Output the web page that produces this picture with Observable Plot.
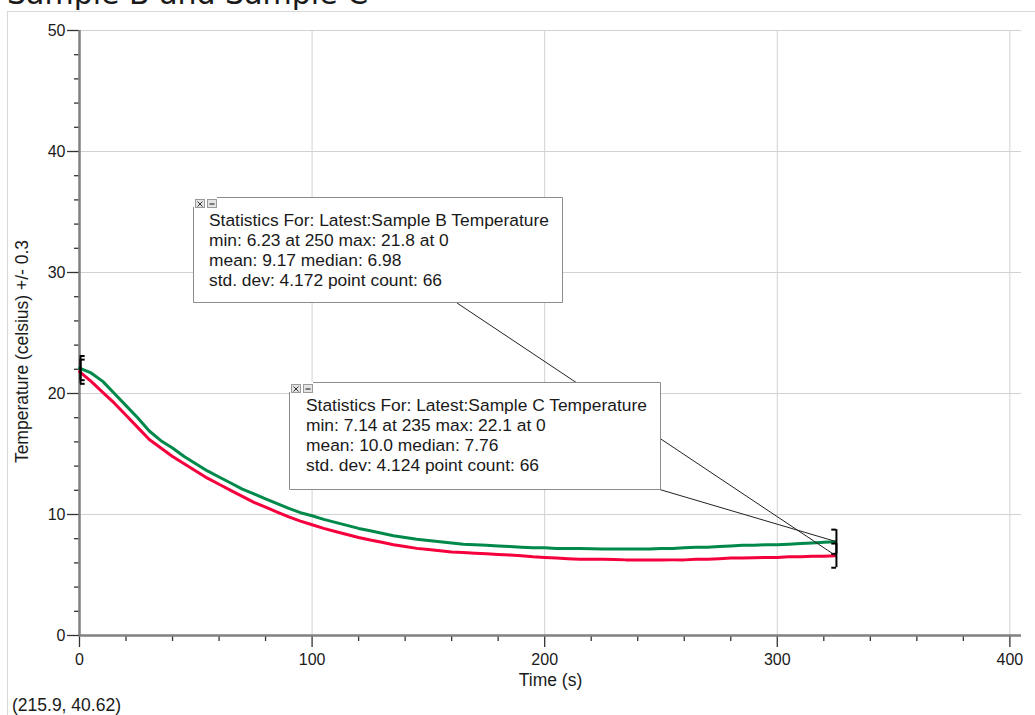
<!DOCTYPE html>
<html><head><meta charset="utf-8">
<script src="https://cdn.jsdelivr.net/npm/d3@7"></script>
<script src="https://cdn.jsdelivr.net/npm/@observablehq/plot@0.6"></script>
<style>
body{margin:0;background:#fff;width:1035px;height:715px;overflow:hidden;position:relative;font-family:"Liberation Sans",Arial,sans-serif;color:#1a1a1a}
#title{position:absolute;left:0;top:0;width:1035px;height:11px;overflow:hidden}
#title span{position:absolute;left:7px;top:-21px;font-family:"DejaVu Sans",Verdana,sans-serif;font-size:30px;line-height:30px;white-space:nowrap;color:#1a1a1a}
#chart{position:absolute;left:0;top:12px}
#panel{position:absolute;left:7px;top:11px;width:1040px;height:720px;border-top:1px solid #d9d9d9;border-left:1px solid #d9d9d9;pointer-events:none}
#caption{position:absolute;left:12px;top:697px;font-size:17.5px;line-height:17.5px;white-space:nowrap}
</style></head>
<body>
<div id="title"><span></span></div>
<div id="chart"></div>
<div id="caption"></div>
<div id="panel"></div>
<script>
const chartTitle = "Sample B and Sample C";
const xLabel = "Time (s)";
const yLabel = "Temperature (celsius) +/- 0.3";
const cursorReadout = "(215.9, 40.62)";

const time = [0,5,10,15,20,25,30,35,40,45,50,55,60,65,70,75,80,85,90,95,100,105,110,115,120,125,130,135,140,145,150,155,160,165,170,175,180,185,190,195,200,205,210,215,220,225,230,235,240,245,250,255,260,265,270,275,280,285,290,295,300,305,310,315,320,325];
const sampleB = [21.8,21.0,20.1,19.2,18.2,17.2,16.2,15.5,14.8,14.2,13.6,13.0,12.5,12.0,11.5,11.0,10.6,10.2,9.8,9.45,9.15,8.85,8.6,8.35,8.1,7.9,7.7,7.5,7.35,7.2,7.1,7.0,6.9,6.85,6.8,6.75,6.7,6.65,6.6,6.5,6.45,6.4,6.35,6.3,6.3,6.3,6.28,6.25,6.25,6.25,6.23,6.25,6.25,6.3,6.3,6.35,6.4,6.4,6.42,6.45,6.45,6.5,6.5,6.55,6.55,6.6];
const sampleC = [22.1,21.7,21.0,20.0,19.0,18.0,16.9,16.1,15.5,14.8,14.2,13.6,13.1,12.6,12.1,11.7,11.3,10.9,10.5,10.15,9.9,9.6,9.35,9.1,8.85,8.65,8.45,8.25,8.1,7.95,7.85,7.75,7.65,7.55,7.5,7.45,7.4,7.35,7.3,7.25,7.25,7.2,7.2,7.18,7.16,7.15,7.15,7.14,7.15,7.15,7.2,7.2,7.25,7.3,7.3,7.35,7.4,7.45,7.45,7.5,7.5,7.55,7.6,7.65,7.7,7.75];

const xMajorTicks = [0,100,200,300,400];
const xMinorTicks = [20,40,60,80,120,140,160,180,220,240,260,280,320,340,360,380];
const yMajorTicks = [0,10,20,30,40,50];
const yMinorTicks = [2,4,6,8,12,14,16,18,22,24,26,28,32,34,36,38,42,44,46,48];

const statsB = ["Statistics For: Latest:Sample B Temperature","min: 6.23 at 250 max: 21.8 at 0","mean: 9.17 median: 6.98","std. dev: 4.172 point count: 66"];
const statsC = ["Statistics For: Latest:Sample C Temperature","min: 7.14 at 235 max: 22.1 at 0","mean: 10.0 median: 7.76","std. dev: 4.124 point count: 66"];

const red = "#f5003c", green = "#00894a";

document.querySelector("#title span").textContent = chartTitle;
document.getElementById("caption").textContent = cursorReadout;

const rowsB = time.map((t,i)=>({t, v: sampleB[i]}));
const rowsC = time.map((t,i)=>({t, v: sampleC[i]}));
const last = time.length-1;
const ends = [
  {t: time[0], v: sampleB[0], side: 1},
  {t: time[0], v: sampleC[0], side: 1},
  {t: time[last], v: sampleB[last], side: -1},
  {t: time[last], v: sampleC[last], side: -1}
];
const bracketTicks = ends.flatMap(d => [
  {x1: d.t, x2: d.t + d.side*2, y: d.v - 1},
  {x1: d.t, x2: d.t + d.side*2, y: d.v + 1}
]);

const plot = Plot.plot({
  width: 1035, height: 680,
  marginLeft: 79, marginRight: 14, marginTop: 18, marginBottom: 57,
  style: {fontFamily: '"Liberation Sans", Arial, sans-serif', fontSize: "16px", color: "#1a1a1a", background: "#fff", overflow: "visible"},
  x: {domain: [0, 405]},
  y: {domain: [0, 50]},
  marks: [
    Plot.gridX(xMajorTicks.filter(d => d > 0), {stroke: "#d2d2d2", strokeOpacity: 1}),
    Plot.gridY(yMajorTicks.filter(d => d > 0), {stroke: "#d2d2d2", strokeOpacity: 1}),
    Plot.axisX(xMinorTicks, {tickSize: 6, fill: "none", stroke: "#333", strokeWidth: 1.3, label: null}),
    Plot.axisX(xMajorTicks, {tickSize: 12, tickPadding: 6, stroke: "#333", strokeWidth: 1.3, label: null}),
    Plot.axisY(yMinorTicks, {tickSize: 5, fill: "none", stroke: "#333", strokeWidth: 1.3, label: null}),
    Plot.axisY(yMajorTicks, {tickSize: 12, tickPadding: 2, stroke: "#333", strokeWidth: 1.3, label: null}),
    Plot.ruleY([0], {stroke: "#808080", strokeWidth: 2.5}),
    Plot.ruleX([0], {stroke: "#808080", strokeWidth: 2.5}),
    Plot.line(rowsC, {x: "t", y: "v", stroke: green, strokeWidth: 3}),
    Plot.line(rowsB, {x: "t", y: "v", stroke: red, strokeWidth: 3}),
    Plot.ruleX(ends, {x: "t", y1: d => d.v - 1, y2: d => d.v + 1, stroke: "#000", strokeWidth: 2, dx: 1}),
    Plot.ruleY(bracketTicks, {x1: "x1", x2: "x2", y: "y", stroke: "#000", strokeWidth: 2, dx: 1}),
    Plot.text([xLabel], {frameAnchor: "bottom", dy: 50, fontSize: 17.5}),
    Plot.text([yLabel], {frameAnchor: "left", textAnchor: "middle", rotate: -90, dx: -57, dy: 18.5, fontSize: 17.5})
  ]
});
document.getElementById("chart").appendChild(plot);

// statistics annotation boxes (positions are layout, in SVG pixels)
const sx = plot.scale("x"), sy = plot.scale("y");
const svg = d3.select(plot);
const g = svg.append("g").attr("text-anchor", "start");
const boxes = [
  {lines: statsB, left: 193, top: 185, right: 562, bottom: 290, textX: 209, base: 214, anchor: [457, 291], endV: sampleB[last]},
  {lines: statsC, left: 289, top: 370, right: 660, bottom: 477, textX: 306, base: 399, anchor: [658, 477], endV: sampleC[last]}
];
boxes.forEach(b => {
  g.append("line").attr("x1", b.anchor[0]).attr("y1", b.anchor[1])
    .attr("x2", sx.apply(time[last])).attr("y2", sy.apply(b.endV))
    .attr("stroke", "#222").attr("stroke-width", 1);
});
boxes.forEach(b => {
  const bg = g.append("g");
  const bt = b.top + 10;
  bg.append("rect").attr("x", b.left).attr("y", b.top).attr("width", b.right - b.left).attr("height", b.bottom - b.top)
    .attr("fill", "#fff").attr("stroke", "none");
  bg.append("path").attr("d", `M${b.left + 0.5},${bt}V${b.bottom + 0.5}H${b.right + 0.5}V${b.top + 0.5}H${b.left + 24}`)
    .attr("fill", "none").attr("stroke", "#8c8c8c").attr("stroke-width", 1);
  [0, 12].forEach((off, k) => {
    const x0 = b.left + 2 + off, y0 = b.top + 2;
    bg.append("rect").attr("x", x0 + 0.5).attr("y", y0 + 0.5).attr("width", 9).attr("height", 8)
      .attr("fill", "#e4e4e4").attr("stroke", "#9a9a9a");
    if (k === 0) {
      bg.append("path").attr("d", `M${x0 + 2.5},${y0 + 2.5}L${x0 + 7.5},${y0 + 7.5}M${x0 + 7.5},${y0 + 2.5}L${x0 + 2.5},${y0 + 7.5}`)
        .attr("stroke", "#333").attr("stroke-width", 1);
    } else {
      bg.append("path").attr("d", `M${x0 + 2.5},${y0 + 5}H${x0 + 7.5}`).attr("stroke", "#333").attr("stroke-width", 1.2);
    }
  });
  b.lines.forEach((s, i) => {
    bg.append("text").attr("x", b.textX).attr("y", b.base + i * 20).attr("text-anchor", "start")
      .attr("font-size", 17.4).attr("fill", "#1a1a1a").text(s);
  });
});
</script>
</body></html>
